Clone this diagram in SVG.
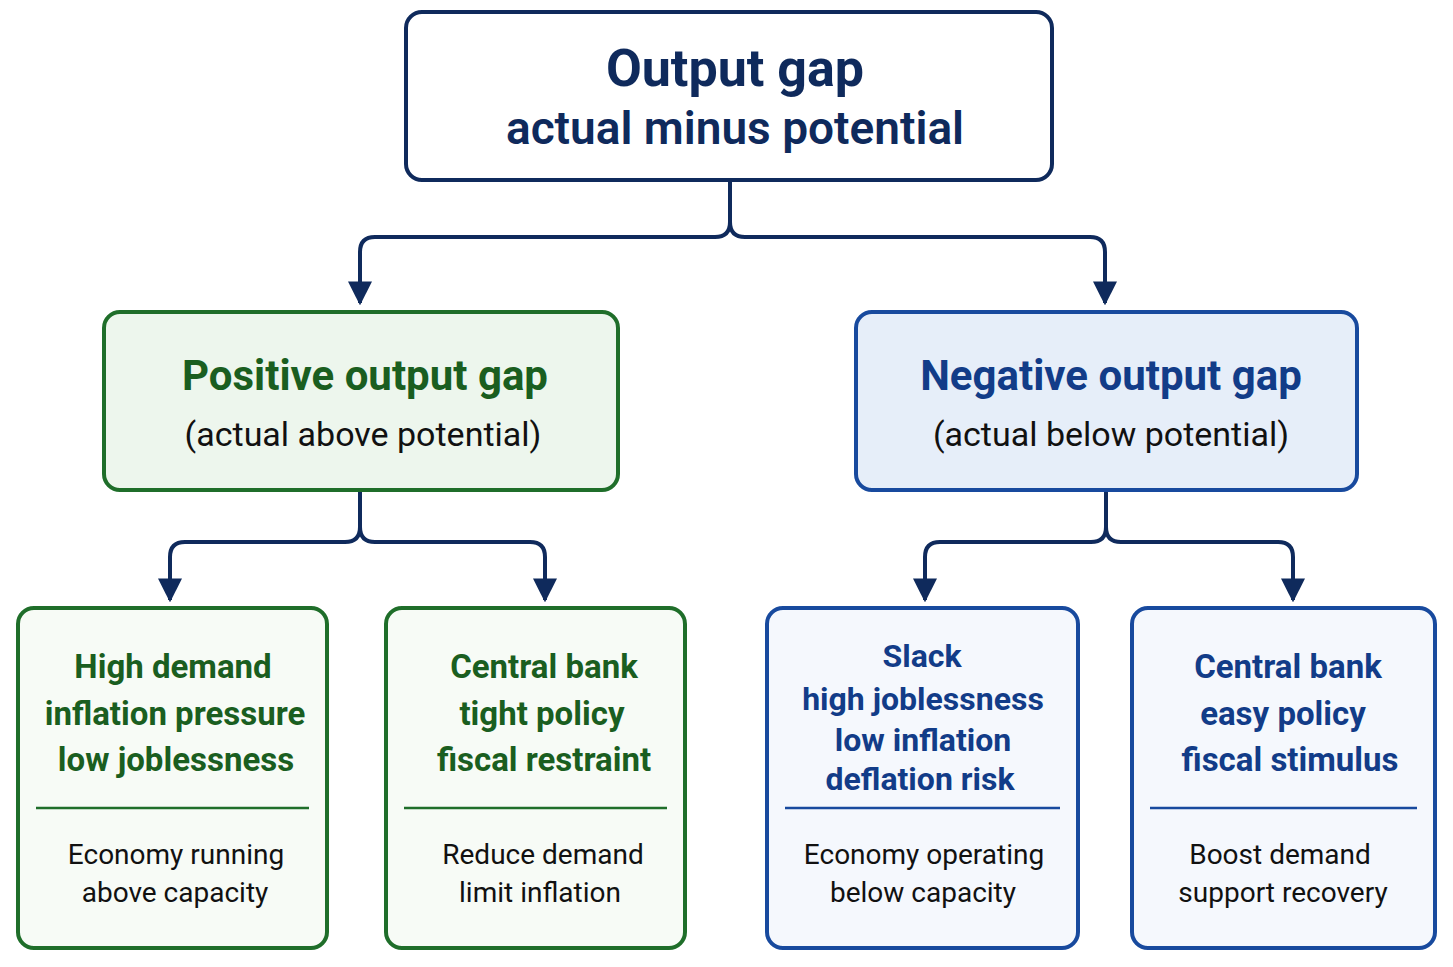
<svg xmlns="http://www.w3.org/2000/svg" width="1453" height="967" viewBox="0 0 1453 967">
<style>
text{font-family:Roboto,"Noto Sans","Liberation Sans",sans-serif;text-anchor:middle}
.c{fill:none;stroke:#0f2a5c;stroke-width:4;stroke-linejoin:round}
.g{fill:#edf6ed;stroke:#1f6e2a;stroke-width:4}
.gl{fill:#f7fbf6;stroke:#1f6e2a;stroke-width:4}
.b{fill:#e6eef9;stroke:#184a9e;stroke-width:4}
.bl{fill:#f5f8fd;stroke:#184a9e;stroke-width:4}
.gt{fill:#1a5e20;font-weight:700}
.bt{fill:#123c88;font-weight:700}
.body{fill:#111;font-size:28px}
</style>
<defs>
<marker id="ar" viewBox="0 0 10 10" refX="9" refY="5" markerWidth="6" markerHeight="6" orient="auto"><path d="M0,0L10,5L0,10z" fill="#0f2a5c"/></marker></defs>
<g id="connectors">
<path class="c" d="M730,180V222Q730,237 715,237H375Q360,237 360,252V303" marker-end="url(#ar)"/>
<path class="c" d="M730,222Q730,237 745,237H1090Q1105,237 1105,252V303" marker-end="url(#ar)"/>
<path class="c" d="M360,490V527Q360,542 345,542H185Q170,542 170,557V600" marker-end="url(#ar)"/>
<path class="c" d="M360,527Q360,542 375,542H530Q545,542 545,557V600" marker-end="url(#ar)"/>
<path class="c" d="M1106,490V527Q1106,542 1091,542H940Q925,542 925,557V600" marker-end="url(#ar)"/>
<path class="c" d="M1106,527Q1106,542 1121,542H1278Q1293,542 1293,557V600" marker-end="url(#ar)"/>
</g>
<g id="top"><rect x="406" y="12" width="646" height="168" rx="16" fill="#fff" stroke="#0f2a5c" stroke-width="4"/>
<text x="735" y="86" font-size="52" font-weight="700" fill="#0f2a5c">Output gap</text>
<text x="735" y="144" font-size="46" font-weight="600" fill="#0f2a5c">actual minus potential</text></g>
<g id="positive"><rect class="g" x="104" y="312" width="514" height="178" rx="16"/>
<text class="gt" x="365" y="390" font-size="42">Positive output gap</text>
<text x="363" y="446" font-size="34" fill="#111">(actual above potential)</text></g>
<g id="negative"><rect class="b" x="856" y="312" width="501" height="178" rx="16"/>
<text class="bt" x="1111" y="390" font-size="42">Negative output gap</text>
<text x="1111" y="446" font-size="34" fill="#111">(actual below potential)</text></g>
<g id="high"><rect class="gl" x="18" y="608" width="309" height="340" rx="16"/>
<text class="gt" font-size="33"><tspan x="173" y="678">High demand</tspan><tspan x="175" y="725">inflation pressure</tspan><tspan x="176" y="771">low joblessness</tspan></text>
<line x1="36" y1="808" x2="309" y2="808" stroke="#1f6e2a" stroke-width="2.5"/>
<text class="body"><tspan x="176" y="864">Economy running</tspan><tspan x="175" y="902">above capacity</tspan></text></g>
<g id="tight"><rect class="gl" x="386" y="608" width="299" height="340" rx="16"/>
<text class="gt" font-size="33"><tspan x="544" y="678">Central bank</tspan><tspan x="542" y="725">tight policy</tspan><tspan x="544" y="771">fiscal restraint</tspan></text>
<line x1="404" y1="808" x2="667" y2="808" stroke="#1f6e2a" stroke-width="2.5"/>
<text class="body"><tspan x="543" y="864">Reduce demand</tspan><tspan x="540" y="902">limit inflation</tspan></text></g>
<g id="slack"><rect class="bl" x="767" y="608" width="311" height="340" rx="16"/>
<text class="bt" font-size="32"><tspan x="922" y="667">Slack</tspan><tspan x="923" y="710">high joblessness</tspan><tspan x="923" y="751">low inflation</tspan><tspan x="920" y="790">deflation risk</tspan></text>
<line x1="785" y1="808" x2="1060" y2="808" stroke="#184a9e" stroke-width="2.5"/>
<text class="body"><tspan x="924" y="864">Economy operating</tspan><tspan x="923" y="902">below capacity</tspan></text></g>
<g id="easy"><rect class="bl" x="1132" y="608" width="303" height="340" rx="16"/>
<text class="bt" font-size="33"><tspan x="1288" y="678">Central bank</tspan><tspan x="1283" y="725">easy policy</tspan><tspan x="1290" y="771">fiscal stimulus</tspan></text>
<line x1="1150" y1="808" x2="1417" y2="808" stroke="#184a9e" stroke-width="2.5"/>
<text class="body"><tspan x="1280" y="864">Boost demand</tspan><tspan x="1283" y="902">support recovery</tspan></text></g>
</svg>
